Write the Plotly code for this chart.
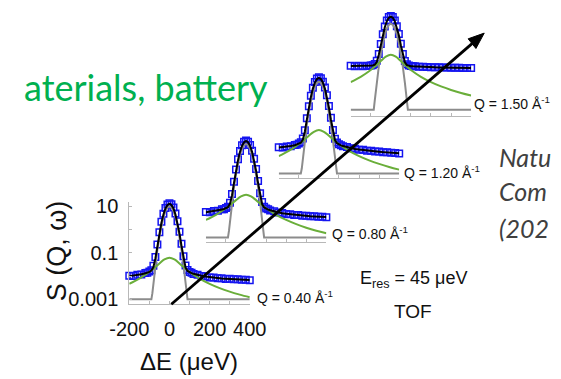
import math
import plotly.graph_objects as go

# ---------------- data ----------------
energy = [-200, -180, -160, -140, -120, -110, -100, -90, -80, -70, -60, -50, -40, -30, -20, -10, 0,
          10, 20, 30, 40, 50, 60, 70, 80, 90, 100, 110, 120, 140, 160, 180, 200, 220, 240, 260,
          280, 300, 320, 340, 360, 380, 400]
energy_res = [-200, -90, -85, -80, -70, -60, -50, -40, -30, -20, -10, 0, 10, 20, 30, 40, 50, 60, 70,
              80, 85, 90, 400]
energy_qens = [-200, -150, -100, -75, -50, -25, 0, 25, 50, 75, 100, 150, 200, 250, 300, 350, 400]

q_labels = ["0.40", "0.80", "1.20", "1.50"]

data_q040 = [0.0104, 0.0101, 0.0115, 0.0118, 0.0137, 0.0139, 0.0157, 0.0180, 0.028, 0.066, 0.23, 0.78,
             2.2, 4.8, 8.6, 12.2, 13.6, 12.4, 8.9, 5.0, 2.3, 0.82, 0.25, 0.072, 0.029, 0.0185, 0.0150,
             0.0139, 0.0124, 0.0115, 0.0101, 0.0098, 0.0088, 0.0088, 0.0081, 0.0081, 0.0076, 0.0078,
             0.0073, 0.0073, 0.0070, 0.0070, 0.0067]
fit_q040 = [0.0100, 0.0105, 0.0112, 0.0120, 0.0133, 0.0141, 0.0152, 0.0172, 0.0242, 0.058, 0.201, 0.689,
            1.97, 4.49, 8.11, 11.58, 13.04, 11.58, 8.11, 4.49, 1.97, 0.689, 0.201, 0.0576, 0.0238, 0.0168,
            0.0147, 0.0135, 0.0126, 0.0112, 0.0103, 0.0096, 0.0090, 0.0086, 0.0083, 0.0079, 0.0077,
            0.0076, 0.0074, 0.0072, 0.0071, 0.0069, 0.0068]
res_q040 = [0.001, 0.001, 0.00185, 0.0049, 0.0294, 0.138, 0.511, 1.49, 3.43, 6.21, 8.88, 10, 8.88, 6.21,
            3.43, 1.49, 0.511, 0.138, 0.0294, 0.0049, 0.00185, 0.001, 0.001]
qens_q040 = [0.00466, 0.00781, 0.0152, 0.0227, 0.0350, 0.0520, 0.062, 0.0520, 0.0350, 0.0227, 0.0152,
             0.00781, 0.00466, 0.00306, 0.00216, 0.0016, 0.00123]

data_q080 = [0.0124, 0.0122, 0.0137, 0.0140, 0.0162, 0.0164, 0.0185, 0.0210, 0.031, 0.073, 0.25, 0.83,
             2.3, 5.2, 9.3, 13.1, 14.8, 13.2, 9.5, 5.4, 2.45, 0.88, 0.27, 0.079, 0.033, 0.0210, 0.0176,
             0.0162, 0.0145, 0.0134, 0.0117, 0.0113, 0.0101, 0.0100, 0.0092, 0.0092, 0.0086, 0.0086,
             0.0081, 0.0081, 0.0077, 0.0077, 0.0074]
fit_q080 = [0.0120, 0.0126, 0.0133, 0.0143, 0.0157, 0.0167, 0.0179, 0.0201, 0.0279, 0.0643, 0.219, 0.744,
            2.12, 4.84, 8.73, 12.47, 14.04, 12.47, 8.73, 4.84, 2.12, 0.743, 0.218, 0.0637, 0.0272, 0.0194,
            0.0171, 0.0158, 0.0147, 0.0131, 0.0119, 0.0110, 0.0103, 0.0098, 0.0094, 0.0090, 0.0087,
            0.0084, 0.0082, 0.0080, 0.0078, 0.0076, 0.0075]
res_q080 = [0.001, 0.001, 0.0019, 0.0052, 0.031, 0.145, 0.537, 1.56, 3.6, 6.52, 9.32, 10.5, 9.32, 6.52,
            3.6, 1.56, 0.537, 0.145, 0.031, 0.0052, 0.0019, 0.001, 0.001]
qens_q080 = [0.00562, 0.00938, 0.0180, 0.0265, 0.0401, 0.0579, 0.068, 0.0579, 0.0401, 0.0265, 0.0180,
             0.00938, 0.00562, 0.00371, 0.00262, 0.00194, 0.0015]

data_q120 = [0.0134, 0.0131, 0.0146, 0.0149, 0.0170, 0.0172, 0.0194, 0.0220, 0.032, 0.072, 0.24, 0.79,
             2.2, 4.9, 8.7, 12.3, 13.8, 12.4, 8.9, 5.0, 2.3, 0.81, 0.25, 0.074, 0.031, 0.0214, 0.0181,
             0.0165, 0.0149, 0.0138, 0.0121, 0.0117, 0.0105, 0.0104, 0.0095, 0.0095, 0.0089, 0.0088,
             0.0082, 0.0082, 0.0078, 0.0077, 0.0073]
fit_q120 = [0.0130, 0.0135, 0.0142, 0.0152, 0.0165, 0.0175, 0.0188, 0.0210, 0.0284, 0.0624, 0.206, 0.694,
            1.97, 4.50, 8.12, 11.59, 13.05, 11.59, 8.11, 4.50, 1.97, 0.693, 0.205, 0.0616, 0.0274, 0.0200,
            0.0176, 0.0161, 0.0151, 0.0135, 0.0123, 0.0114, 0.0107, 0.0101, 0.0097, 0.0093, 0.0090,
            0.0086, 0.0083, 0.0081, 0.0079, 0.0076, 0.0074]
res_q120 = [0.001, 0.001, 0.00167, 0.0044, 0.0265, 0.124, 0.46, 1.34, 3.09, 5.59, 7.99, 9, 7.99, 5.59,
            3.09, 1.34, 0.46, 0.124, 0.0265, 0.0044, 0.00167, 0.001, 0.001]
qens_q120 = [0.00556, 0.00932, 0.0181, 0.0271, 0.0418, 0.0621, 0.074, 0.0621, 0.0418, 0.0271, 0.0181,
             0.00932, 0.00556, 0.00366, 0.00258, 0.00191, 0.00147]

data_q150 = [0.092, 0.088, 0.093, 0.089, 0.094, 0.091, 0.096, 0.099, 0.110, 0.152, 0.30, 0.80, 2.1, 4.6,
             8.2, 11.6, 13.0, 11.7, 8.3, 4.7, 2.15, 0.82, 0.30, 0.148, 0.107, 0.095, 0.091, 0.089, 0.088,
             0.085, 0.084, 0.082, 0.081, 0.080, 0.080, 0.078, 0.078, 0.077, 0.076, 0.076, 0.075, 0.075,
             0.074]
fit_q150 = [0.0898, 0.0899, 0.0902, 0.0909, 0.0920, 0.0928, 0.0940, 0.0961, 0.103, 0.135, 0.268, 0.719,
            1.90, 4.23, 7.57, 10.78, 12.12, 10.78, 7.57, 4.23, 1.90, 0.716, 0.265, 0.131, 0.099, 0.0918,
            0.0893, 0.0877, 0.0864, 0.0844, 0.0828, 0.0816, 0.0805, 0.0795, 0.0788, 0.0780, 0.0773,
            0.0766, 0.0759, 0.0754, 0.0748, 0.0743, 0.0737]
res_q150 = [0.0012, 0.0012, 0.0012, 0.00296, 0.0176, 0.0828, 0.307, 0.894, 2.06, 3.73, 5.33, 6, 5.33, 3.73,
            2.06, 0.894, 0.307, 0.0828, 0.0176, 0.00296, 0.0012, 0.0012, 0.0012]
qens_q150 = [0.0184, 0.0311, 0.0613, 0.0932, 0.148, 0.229, 0.28, 0.229, 0.148, 0.0932, 0.0613, 0.0311,
             0.0184, 0.0120, 0.00848, 0.00627, 0.00484]

x_major_ticks = [-200, 0, 200, 400]
x_major_text = ["-200", "0", "200", "400"]
x_minor_ticks = [-100, 100, 300]
y_major_ticks = [0.001, 0.1, 10]
y_major_text = ["0.001", "0.1", "10"]
y_minor_ticks = [0.01, 1]

# ---------------- layout geometry (pixels) ----------------
W, H = 561, 379
PX_W = 129          # width of a panel (-200..400 μeV)
DEC = 24.0          # pixels per decade
Y_LO, Y_HI = -3.21, 1.2
# left edge (x of -200 μeV) and bottom (axis line) of each panel
panel_px = [(117, 308), (199, 244), (277, 178), (354, 114)]

series = [
    (data_q040, fit_q040, res_q040, qens_q040),
    (data_q080, fit_q080, res_q080, qens_q080),
    (data_q120, fit_q120, res_q120, qens_q120),
    (data_q150, fit_q150, res_q150, qens_q150),
]

SANS = "Liberation Sans, Arial, sans-serif"
CAL = "Lato, Carlito, sans-serif"
BLUE = "#1414f0"
GREEN = "#6aae3a"
GRAY = "#8c8c8c"
AXGRAY = "#b8b8b8"

fig = go.Figure()
layout_axes = {}
for i, ((x0, yb), (dat, fit, res, qens)) in enumerate(zip(panel_px, series)):
    n = "" if i == 0 else str(i + 1)
    xa, ya = "x" + n, "y" + n
    ytop = yb - (Y_HI - Y_LO) * DEC
    xdom = [x0 / W, (x0 + PX_W) / W]
    ydom = [(H - yb) / H, (H - ytop) / H]

    fig.add_trace(go.Scatter(x=energy, y=dat, mode="markers", xaxis=xa, yaxis=ya,
                             marker=dict(symbol="square-open", size=6.5, color=BLUE,
                                         line=dict(width=1.5, color=BLUE)),
                             cliponaxis=False, showlegend=False, hoverinfo="skip"))
    fig.add_trace(go.Scatter(x=energy_res, y=res, mode="lines", xaxis=xa, yaxis=ya,
                             line=dict(color=GRAY, width=2), showlegend=False, hoverinfo="skip"))
    fig.add_trace(go.Scatter(x=energy_qens, y=qens, mode="lines", xaxis=xa, yaxis=ya,
                             line=dict(color=GREEN, width=2, shape="spline"),
                             showlegend=False, hoverinfo="skip"))
    fig.add_trace(go.Scatter(x=energy, y=fit, mode="lines", xaxis=xa, yaxis=ya,
                             line=dict(color="black", width=2), showlegend=False, hoverinfo="skip"))

    first = i == 0
    xaxis = dict(
        domain=xdom, anchor=ya, range=[-200, 400], showgrid=False, zeroline=False,
        showline=True, linecolor=AXGRAY, linewidth=1, ticks="inside", ticklen=3,
        tickcolor=AXGRAY, tickmode="array", tickvals=x_major_ticks,
        showticklabels=first,
        minor=dict(tickmode="array", tickvals=x_minor_ticks, ticks="inside", ticklen=3,
                   tickcolor=AXGRAY, showgrid=False),
        fixedrange=True)
    if first:
        xaxis.update(ticktext=x_major_text, tickangle=0, ticklabelstandoff=7,
                     tickfont=dict(family=SANS, size=20, color="#111111"))
    layout_axes["xaxis" + n] = xaxis

    if first:
        yaxis = dict(
            domain=ydom, anchor=xa, type="log", range=[Y_LO, Y_HI], showgrid=False,
            zeroline=False, showline=True, linecolor=AXGRAY, linewidth=1,
            ticks="inside", ticklen=3, tickcolor=AXGRAY, tickmode="array",
            tickvals=y_major_ticks, ticktext=y_major_text, tickangle=0,
            tickfont=dict(family=SANS, size=20, color="#111111"), ticklabelstandoff=6,
            minor=dict(tickmode="array", tickvals=y_minor_ticks, ticks="inside", ticklen=3,
                       tickcolor=AXGRAY, showgrid=False),
            fixedrange=True)
    else:
        yaxis = dict(domain=ydom, anchor=xa, type="log", range=[Y_LO, Y_HI], visible=False,
                     showticklabels=False, showgrid=False, zeroline=False, fixedrange=True)
    layout_axes["yaxis" + n] = yaxis


def P(x, y):
    return x / W, 1 - y / H


annotations = []


def text(s, x, y, size, family, color="#111111", xanchor="left", yanchor="middle", angle=0):
    px, py = P(x, y)
    annotations.append(dict(text=s, x=px, y=py, xref="paper", yref="paper", showarrow=False,
                            xanchor=xanchor, yanchor=yanchor, textangle=angle,
                            font=dict(family=family, size=size, color=color)))


text("aterials, battery", 2, 84, 36, CAL, color="#00b050")
text("S (Q, ω)", 40, 253, 27, SANS, xanchor="center", angle=-90)
text("ΔE (μeV)", 181, 367, 24, SANS, xanchor="center")
q_pos = [(252, 300), (332, 234), (409, 171), (484, 100)]
for q, (qx, qy) in zip(q_labels, q_pos):
    text(f"Q = {q} Å<sup>-1</sup>", qx, qy, 14, SANS)
text("E<sub>res</sub> = 45 μeV", 421, 282, 18, SANS, xanchor="center")
text("TOF", 421, 315, 19, SANS, xanchor="center")
for s, yy in [("<i>Natu</i>", 156), ("<i>Com</i>", 191), ("<i>(202</i>", 229)]:
    text(s, 511, yy, 25, CAL, color="#404040")

# diagonal Q arrow (line + filled head), pixel geometry converted to paper units
tail = (162, 308)
tip = (497, 28)
dx, dy = tip[0] - tail[0], tip[1] - tail[1]
L = math.hypot(dx, dy)
ux, uy = dx / L, dy / L
nx, ny = -uy, ux
head_len, head_half = 17, 6.5
bx, by = tip[0] - head_len * ux, tip[1] - head_len * uy
c1 = (bx + head_half * nx, by + head_half * ny)
c2 = (bx - head_half * nx, by - head_half * ny)

shapes = []
t0, b0 = P(*tail), P(bx + 2 * ux, by + 2 * uy)
shapes.append(dict(type="line", xref="paper", yref="paper", x0=t0[0], y0=t0[1], x1=b0[0], y1=b0[1],
                   line=dict(color="black", width=2.8), layer="above"))
pt, p1, p2 = P(*tip), P(*c1), P(*c2)
shapes.append(dict(type="path", xref="paper", yref="paper",
                   path=f"M {pt[0]} {pt[1]} L {p1[0]} {p1[1]} L {p2[0]} {p2[1]} Z",
                   fillcolor="black", line=dict(color="black", width=1), layer="above"))

fig.update_layout(width=W, height=H, margin=dict(l=0, r=0, t=0, b=0, pad=0),
                  paper_bgcolor="white", plot_bgcolor="rgba(0,0,0,0)",
                  showlegend=False, annotations=annotations, shapes=shapes, **layout_axes)

fig.write_html("out.html", config={"displayModeBar": False})
